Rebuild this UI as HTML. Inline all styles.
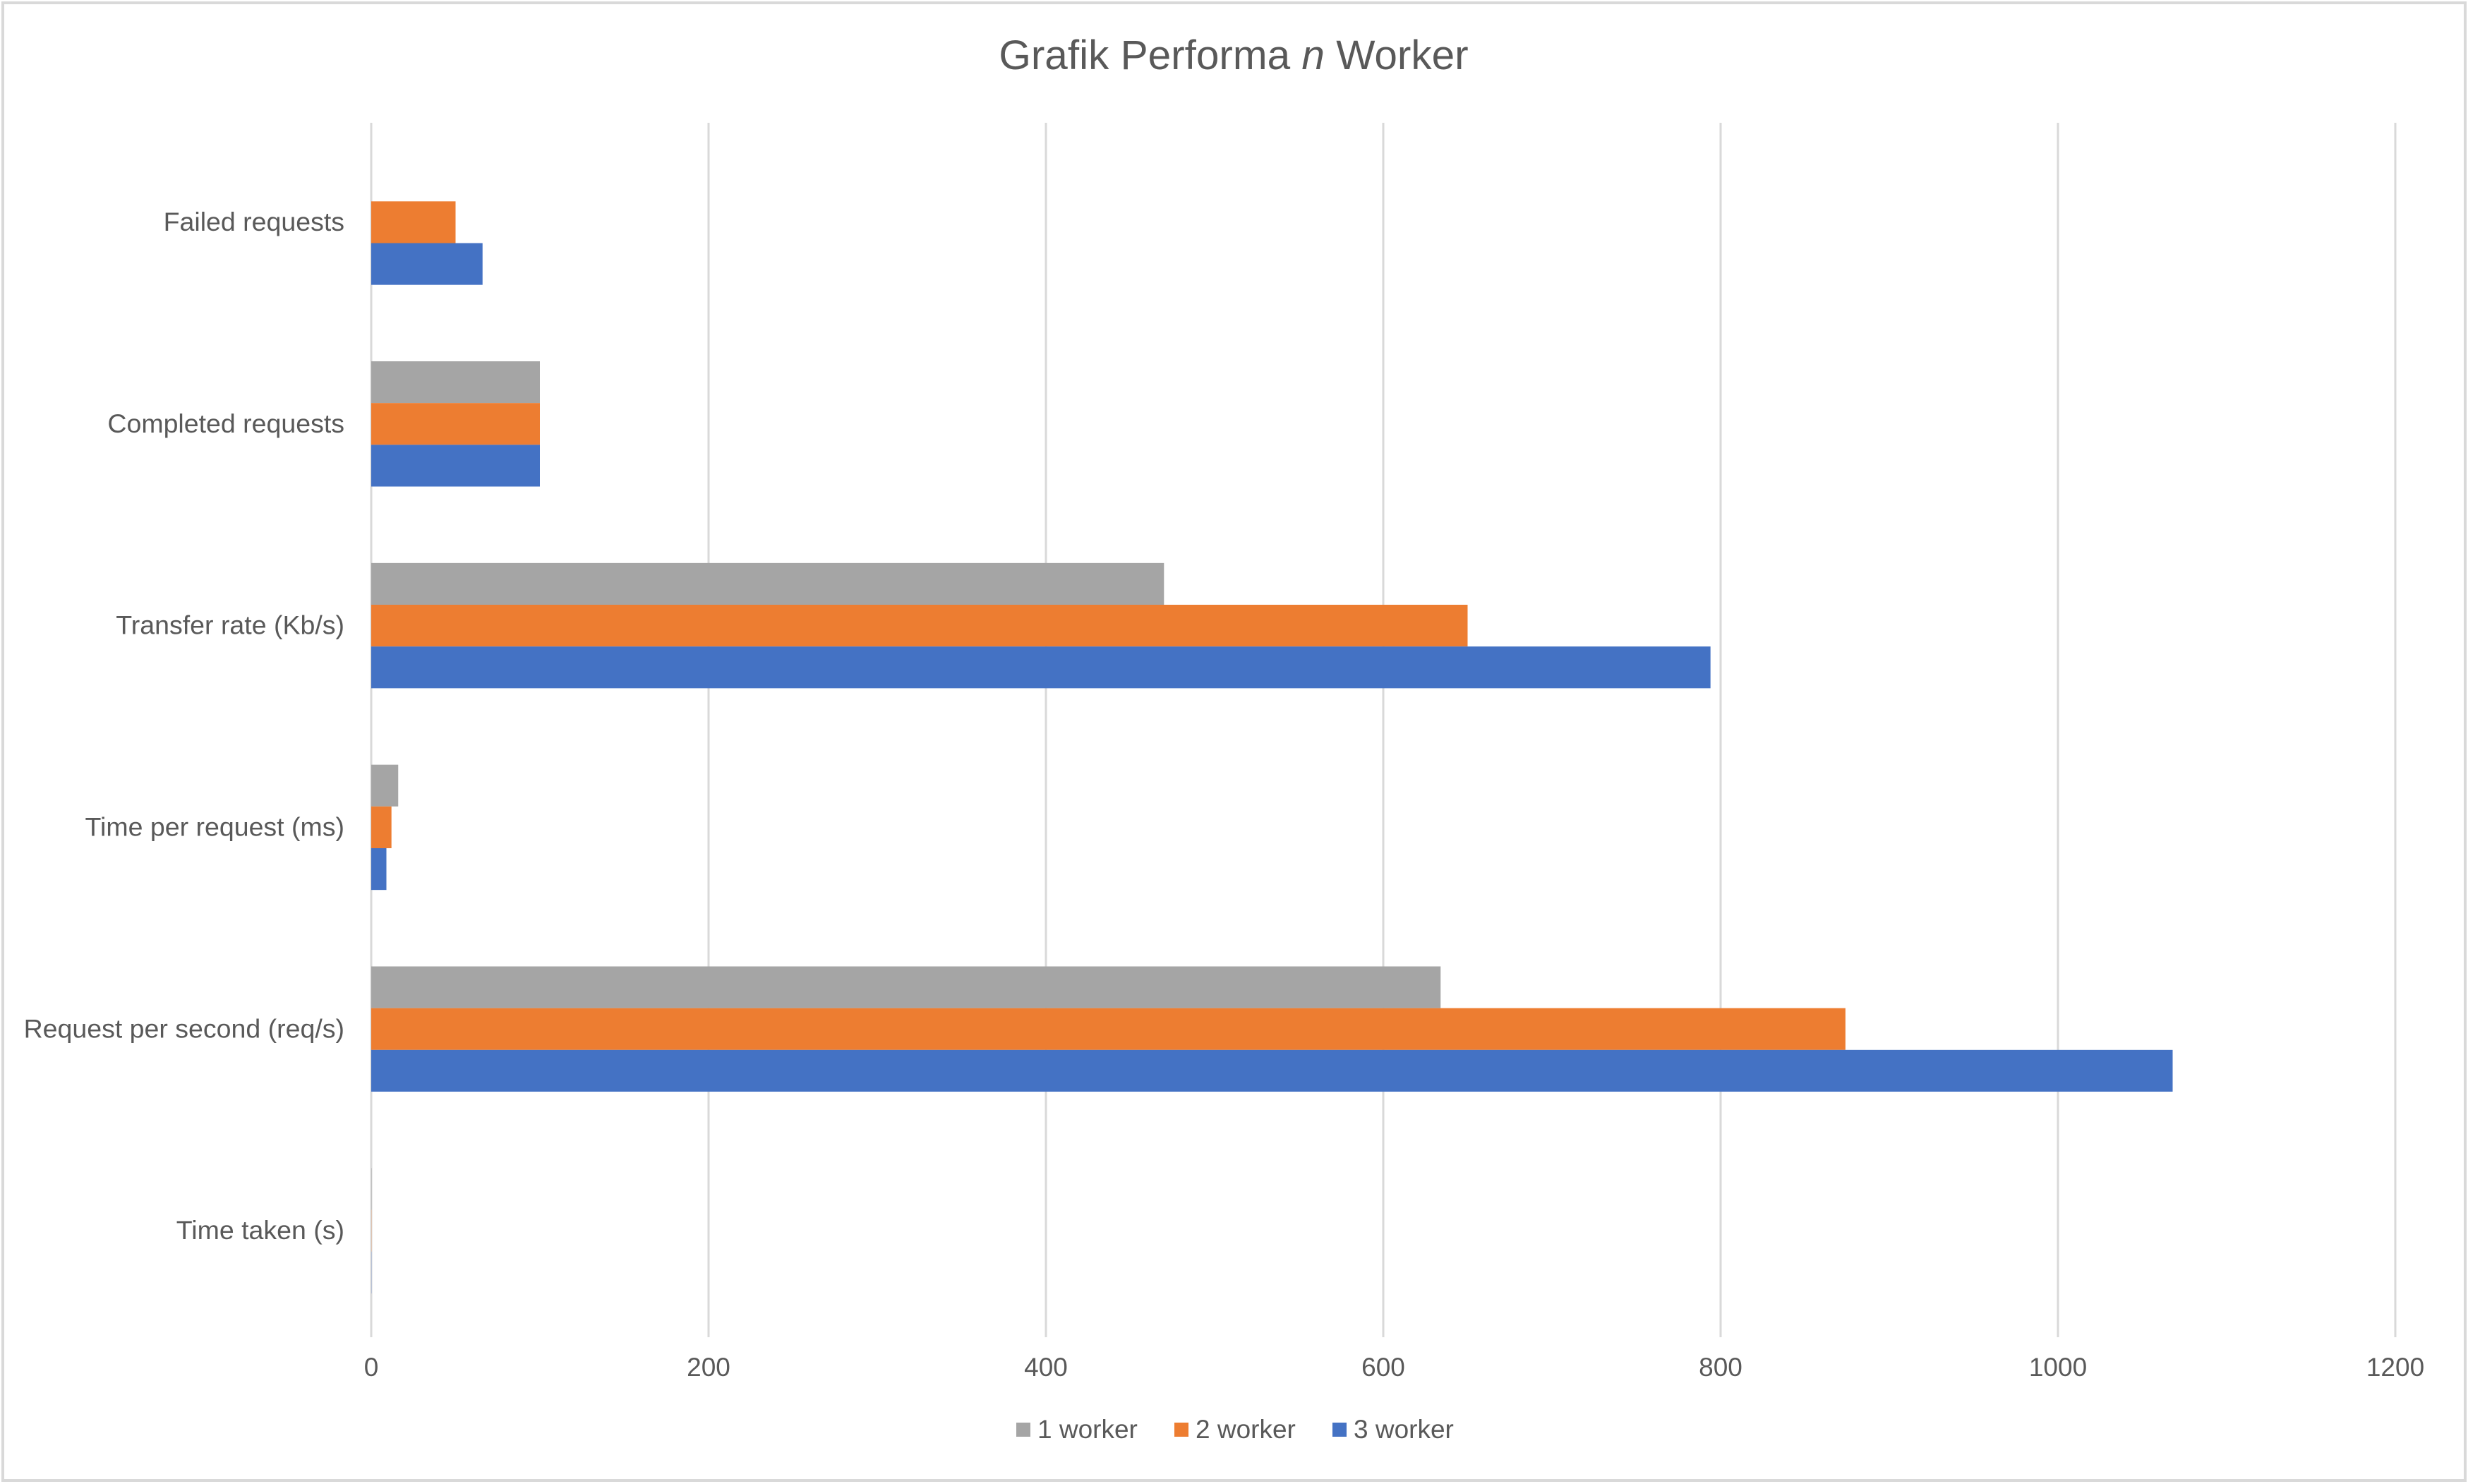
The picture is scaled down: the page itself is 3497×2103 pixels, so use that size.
<!DOCTYPE html>
<html><head><meta charset="utf-8"><style>
html,body{margin:0;padding:0;background:#fff;}
svg{display:block;font-family:"Liberation Sans",sans-serif;}
</style></head><body>
<svg id="chart" width="3497" height="2103" viewBox="0 0 3497 2103" xmlns="http://www.w3.org/2000/svg">
<rect x="4" y="4" width="3489" height="2094" fill="#fff" stroke="#d9d9d9" stroke-width="4"/>
<text x="1748" y="98" text-anchor="middle" font-size="58.5" fill="#595959">Grafik Performa <tspan font-style="italic">n</tspan> Worker</text>
<g id="grid"></g><g id="bars"></g><g id="ylabels"></g><g id="xlabels"></g>
<g>
<rect x="1440" y="2016" width="20" height="20" fill="#a5a5a5"/>
<text x="1470" y="2038" font-size="37" fill="#595959">1 worker</text>
<rect x="1664" y="2016" width="20" height="20" fill="#ed7d31"/>
<text x="1694" y="2038" font-size="37" fill="#595959">2 worker</text>
<rect x="1888" y="2016" width="20" height="20" fill="#4472c4"/>
<text x="1918" y="2038" font-size="37" fill="#595959">3 worker</text>
</g>
</svg>
<script>
const categories = ["Time taken (s)","Request per second (req/s)","Time per request (ms)","Transfer rate (Kb/s)","Completed requests","Failed requests"];
const worker1 = [0.2, 634, 16, 470, 100, 0];
const worker2 = [0.1, 874, 12, 650, 100, 50];
const worker3 = [0.1, 1068, 9, 794, 100, 66];
const xTicks = [0, 200, 400, 600, 800, 1000, 1200];

const NS = "http://www.w3.org/2000/svg";
const x0 = 526, x1 = 3394, gridTop = 174, gridBot = 1895;
const yTop = 172, yBot = 1887;
const xMax = 1200;
function xs(v){ return x0 + (x1 - x0) * v / xMax; }
const band = (yBot - yTop) / categories.length;
function bandTop(i){ return yBot - (i + 1) * band; }
function mk(tag, attrs, parent){ const e = document.createElementNS(NS, tag); for (const k in attrs) e.setAttribute(k, attrs[k]); parent.appendChild(e); return e; }

const grid = document.getElementById('grid');
const xl = document.getElementById('xlabels');
xTicks.forEach(t => {
  const l = mk('line', {x1: xs(t), x2: xs(t), y1: gridTop, y2: gridBot, stroke: '#d9d9d9', 'stroke-width': 3}, grid);
  
  
  const tx = mk('text', {x: xs(t), y: 1950, 'text-anchor': 'middle', 'font-size': 37, fill: '#595959'}, xl);
  tx.textContent = t;
  
  
});

const bars = document.getElementById('bars');
const yl = document.getElementById('ylabels');
const series = [[worker1, '#a5a5a5', '1-worker'], [worker2, '#ed7d31', '2-worker'], [worker3, '#4472c4', '3-worker']];
const barH = band * 0.207;
categories.forEach((c, i) => {
  const top = bandTop(i);
  const groupTop = top + (band - 3 * barH) / 2;
  series.forEach((s, j) => {
    const v = s[0][i];
    const r = mk('rect', {x: xs(0), y: groupTop + j * barH, width: Math.max(0, xs(v) - xs(0)), height: barH, fill: s[1]}, bars);
    
    
  });
  const t = mk('text', {x: 488, y: top + band / 2 + 12, 'text-anchor': 'end', 'font-size': 37.5, fill: '#595959'}, yl);
  t.textContent = c;
  
  
});
</script>
</body></html>
